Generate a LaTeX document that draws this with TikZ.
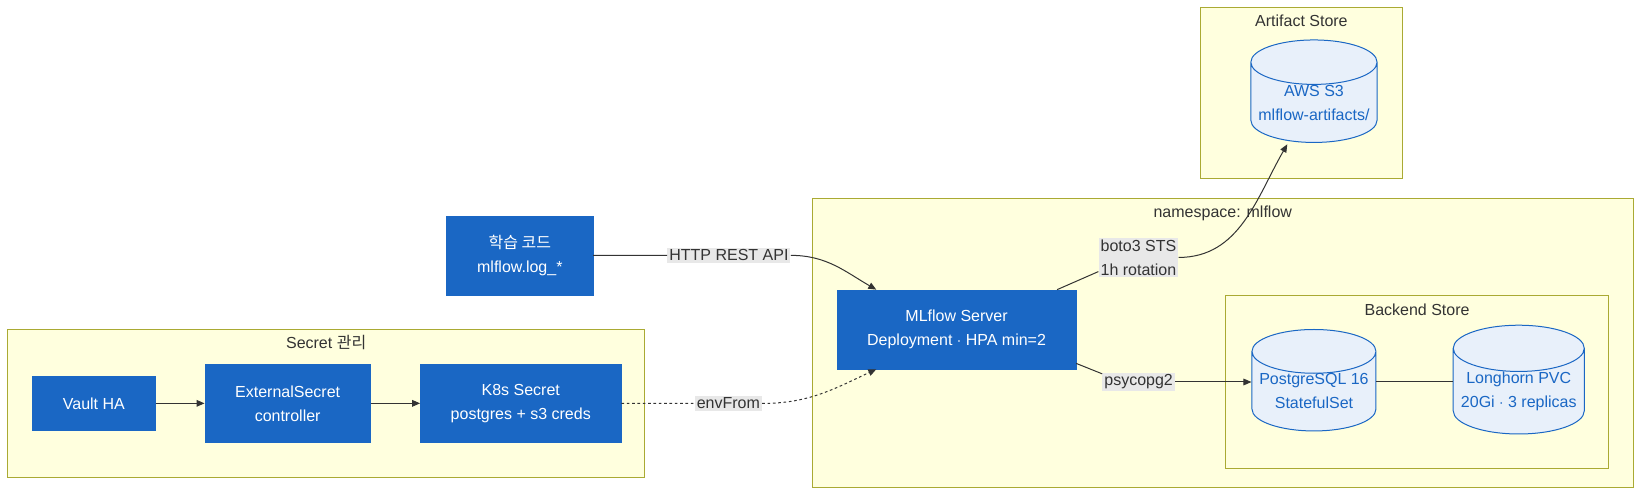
\documentclass[tikz,border=0pt]{standalone}
\usepackage{fontspec}
\setmainfont{Liberation Sans}
\newfontfamily\krfont{Noto Sans CJK KR}
\usepackage{tikz}
\usetikzlibrary{shapes.geometric, arrows.meta, positioning, calc}
\definecolor{boxblue}{HTML}{1A67C4}
\definecolor{dbfill}{HTML}{E8F0FA}
\definecolor{clusterfill}{HTML}{FFFFDE}
\definecolor{clusterline}{HTML}{AAAA33}
\definecolor{labelgray}{HTML}{E8E8E8}
\definecolor{darkgray}{HTML}{333333}
\tikzset{
  service/.style={
    rectangle, inner sep=0pt,
    text centered, align=center, draw=boxblue,
    fill=boxblue, text=white,
  },
  database/.style={
    cylinder, shape border rotate=90, aspect=0.4, inner sep=0pt,
    text centered, align=center, draw=boxblue, line width=0.75pt,
    fill=dbfill, text=boxblue,
  },
  cluster/.style={
    rectangle, inner sep=0pt,
    draw=clusterline, line width=0.75pt, fill=clusterfill,
  },
  clustertitle/.style={inner sep=0pt, text=darkgray, text height=9pt, text depth=2.5pt},
  edgelabel/.style={fill=labelgray, text=darkgray, inner sep=1.5pt, align=center},
  link/.style={line width=0.75pt, color=darkgray},
  arrow/.style={-{Triangle[length=6pt,width=5pt]}, line width=0.75pt, color=darkgray},
  dots/.style={dash pattern=on 2pt off 2pt},
}

\begin{document}
\begin{tikzpicture}[x=0.785pt,y=-0.785pt,every node/.style={font=\fontsize{12}{18}\selectfont}]
  \useasboundingbox (0,0) rectangle (1568,474);
  % clusters
  \node[cluster,minimum width=151.5pt,minimum height=128.3pt] (artifact) at (1243.5,88.7) {};
  \node[cluster,minimum width=615.8pt,minimum height=217pt] (namespace) at (1168.4,327.75) {};
  \node[cluster,minimum width=286.8pt,minimum height=129.2pt] (backend) at (1354.05,365.1) {};
  \node[cluster,minimum width=478.3pt,minimum height=110.9pt] (secret) at (311.65,385.35) {};
  \node[clustertitle] (artifacttitle) at ([yshift=-11.6pt]artifact.north) {Artifact Store};
  \node[clustertitle] (namespacetitle) at ([yshift=-11.6pt]namespace.north) {namespace: mlflow};
  \node[clustertitle] (backendtitle) at ([yshift=-11.6pt]backend.north) {Backend Store};
  \node[clustertitle] (secrettitle) at ([yshift=-11.6pt]secret.north) {Secret {\krfont 관리}};
  % nodes
  \node[service,minimum width=109.7pt,minimum height=59.3pt] (train) at (496.7,244.1) {{\krfont 학습 코드}\\mlflow.log\_*};
  \node[service,minimum width=179pt,minimum height=59.3pt] (mlflow) at (914,314.8) {MLflow Server\\Deployment $\cdot$ HPA min=2};
  \node[service,minimum width=92.2pt,minimum height=41pt] (vault) at (89.7,385.4) {Vault HA};
  \node[service,minimum width=124.3pt,minimum height=59pt,right=36.7pt of vault] (extsecret) {ExternalSecret\\controller};
  \node[service,minimum width=150.6pt,minimum height=59pt,right=37pt of extsecret] (k8ssecret) {K8s Secret\\postgres + s3 creds};
  \node[database,minimum width=94.7pt,minimum height=65.6pt] (s3) at (1255.5,98) {AWS S3\\mlflow-artifacts/};
  \node[database,minimum width=93pt,minimum height=66.4pt] (postgres) at (1255.5,374) {PostgreSQL 16\\StatefulSet};
  \node[database,minimum width=98.3pt,minimum height=66.2pt,right=57.2pt of postgres] (longhorn) {Longhorn PVC\\20Gi $\cdot$ 3 replicas};
  % edge labels
  \node[edgelabel] (http) at (696.5,244) {HTTP REST API};
  \node[edgelabel] (boto) at (1087.8,246) {boto3 STS\\1h rotation};
  \node[edgelabel] (psyco) at (1088,365) {psycopg2};
  \node[edgelabel] (envfrom) at (696,385.5) {envFrom};
  % edges
  \draw[link] (train) -- (http);
  \draw[arrow] (http.east) to[out=0,in=150] ([xshift=29.5pt]mlflow.north west);
  \draw[link,dots] (k8ssecret) -- (envfrom);
  \draw[arrow,dots] (envfrom.east) to[out=0,in=205] ([xshift=29.5pt]mlflow.south west);
  \draw[link] ([xshift=-14.3pt]mlflow.north east) -- ([yshift=4.5pt]boto.south west);
  \draw[arrow] (boto.east) to[out=0,in=240] ([xshift=-20pt,yshift=-1pt]s3.south);
  \draw[link] ([yshift=4.4pt]mlflow.south east) -- ([yshift=-1pt]psyco.north west);
  \draw[arrow] (psyco.east) -- (postgres.west |- psyco.east);
  \draw[link] (postgres.east |- psyco.east) -- (longhorn.west |- psyco.east);
  \draw[arrow] (vault) -- (extsecret);
  \draw[arrow] (extsecret) -- (k8ssecret);
\end{tikzpicture}
\end{document}
